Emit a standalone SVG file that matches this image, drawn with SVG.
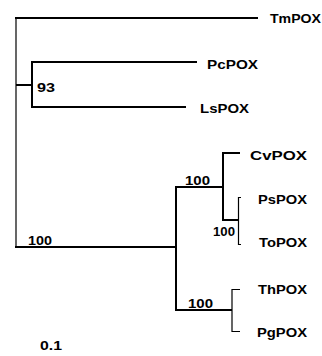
<svg xmlns="http://www.w3.org/2000/svg" width="322" height="356" viewBox="0 0 322 356">
<style>
.br{stroke:#000;stroke-width:2;fill:none;stroke-linecap:butt}
.th{stroke:#000;stroke-width:1.2;fill:none}
.lb{font-family:"Liberation Sans",Arial,sans-serif;font-weight:bold;font-size:13.5px;fill:#000}
.bs{font-family:"Liberation Sans",Arial,sans-serif;font-weight:bold;font-size:13px;fill:#000}
</style>
<rect width="322" height="356" fill="#fff"/>
<g id="connectors">
<path class="th" d="M16,17 V248"/>
<path class="br" d="M15,18 H258"/>
<path class="br" d="M16,85 H32"/>
<path class="br" d="M32,61 V108"/>
<path class="br" d="M31,62 H197"/>
<path class="br" d="M31,107 H186"/>
<path class="br" d="M15,247 H177"/>
<path class="br" d="M176,186 V311"/>
<path class="br" d="M175,187 H224"/>
<path class="br" d="M223,152 V221"/>
<path class="br" d="M222,153 H240"/>
<path class="br" d="M222,220 H238"/>
<path class="th" d="M238.5,197 V245 M238,197.5 H241 M238,244.5 H241"/>
<path class="br" d="M175,310 H232"/>
<path class="th" d="M232,289 V332 M231.5,289.5 H240 M231.5,331.5 H240"/>
</g>
<g id="TmPOX"><text class="lb" x="270" y="23" textLength="51" lengthAdjust="spacingAndGlyphs">TmPOX</text></g>
<g id="PcPOX"><text class="lb" x="207" y="69" textLength="51" lengthAdjust="spacingAndGlyphs">PcPOX</text></g>
<g id="LsPOX"><text class="lb" x="200" y="113" textLength="49" lengthAdjust="spacingAndGlyphs">LsPOX</text></g>
<g id="CvPOX"><text class="lb" x="250" y="160" textLength="57" lengthAdjust="spacingAndGlyphs">CvPOX</text></g>
<g id="PsPOX"><text class="lb" x="258" y="204" textLength="49" lengthAdjust="spacingAndGlyphs">PsPOX</text></g>
<g id="ToPOX"><text class="lb" x="259" y="247" textLength="48" lengthAdjust="spacingAndGlyphs">ToPOX</text></g>
<g id="ThPOX"><text class="lb" x="258" y="294" textLength="49" lengthAdjust="spacingAndGlyphs">ThPOX</text></g>
<g id="PgPOX"><text class="lb" x="257" y="337" textLength="50" lengthAdjust="spacingAndGlyphs">PgPOX</text></g>
<g id="labels">
<text class="bs" x="37" y="92" textLength="18" lengthAdjust="spacingAndGlyphs">93</text>
<text class="bs" x="28" y="245" textLength="24" lengthAdjust="spacingAndGlyphs">100</text>
<text class="bs" x="185" y="185" textLength="25" lengthAdjust="spacingAndGlyphs">100</text>
<text class="bs" x="213" y="236" textLength="22" lengthAdjust="spacingAndGlyphs">100</text>
<text class="bs" x="188" y="308" textLength="25" lengthAdjust="spacingAndGlyphs">100</text>
<text class="bs" x="40" y="350" textLength="22" lengthAdjust="spacingAndGlyphs">0.1</text>
</g>
</svg>
